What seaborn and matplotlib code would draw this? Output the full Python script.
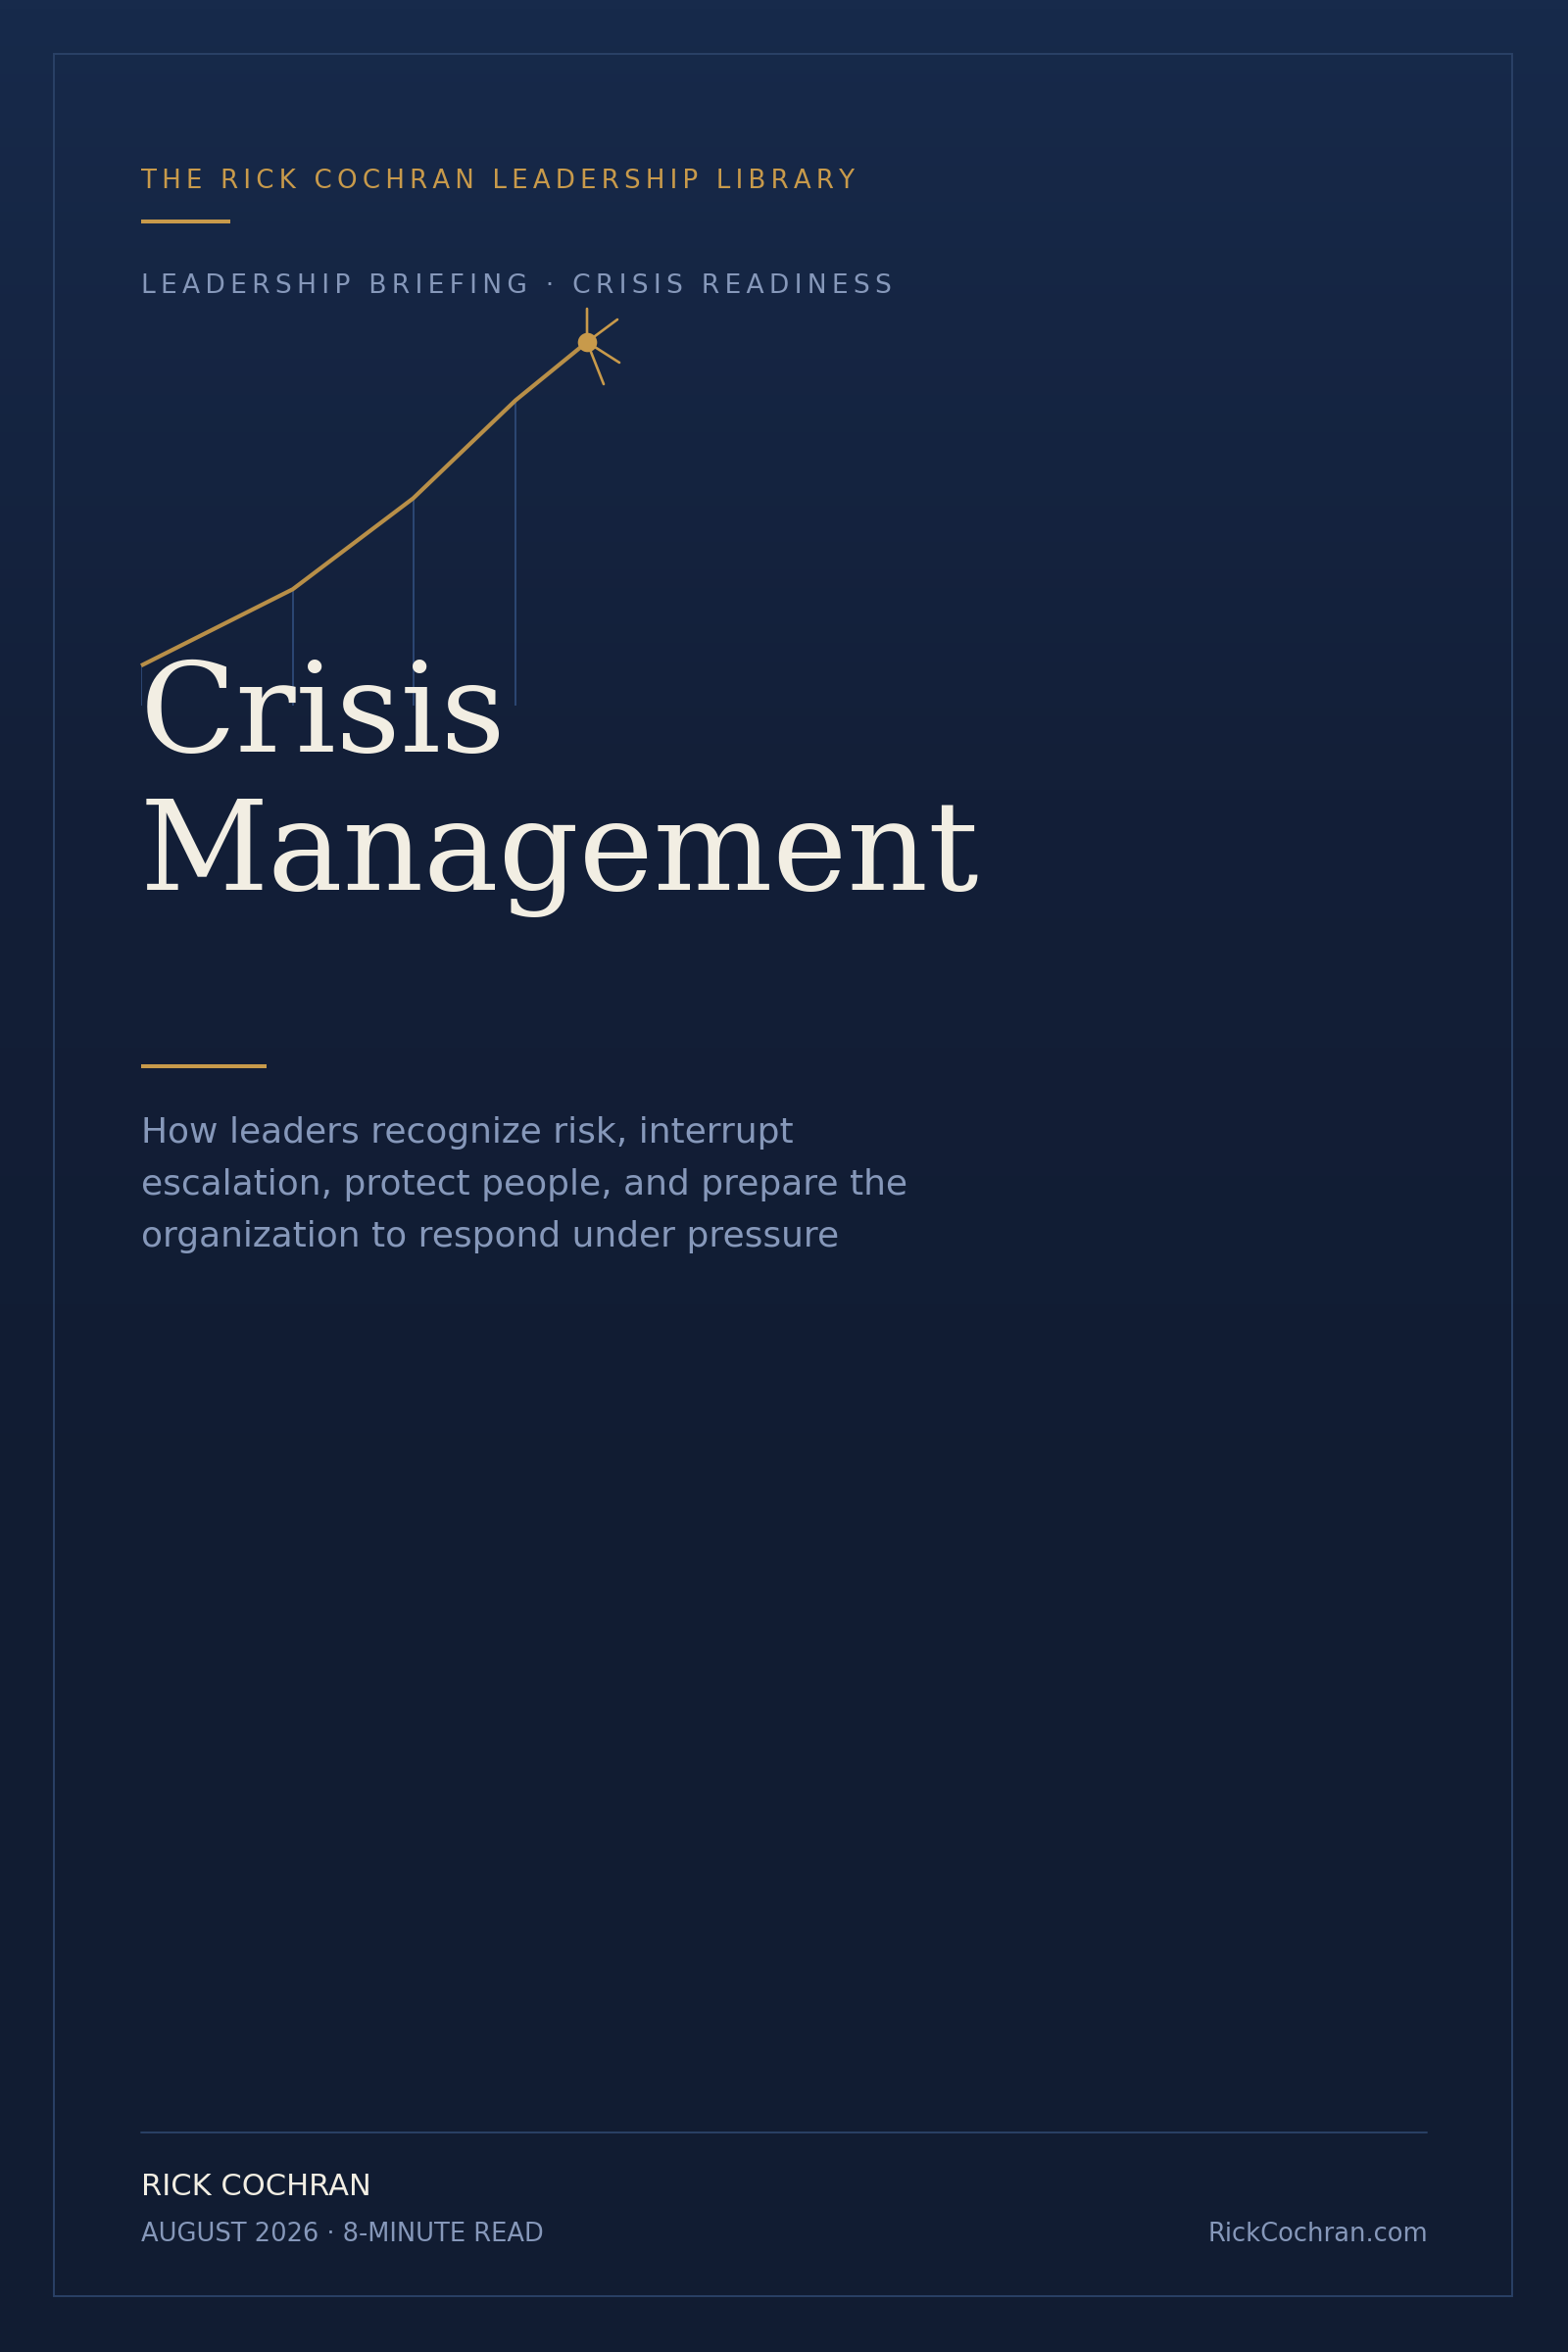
import numpy as np
import matplotlib
matplotlib.use('Agg')
import matplotlib.pyplot as plt
from matplotlib.colors import LinearSegmentedColormap
from matplotlib.patches import Rectangle
import seaborn as sns

# escalation curve (stage of incident vs pressure index)
stage = [0, 34, 61, 84, 100]
pressure = [11, 32, 57, 84, 100]

series_label = 'THE RICK COCHRAN LEADERSHIP LIBRARY'
kicker = 'LEADERSHIP BRIEFING \u00b7 CRISIS READINESS'
title_lines = ['Crisis', 'Management']
subtitle_lines = ['How leaders recognize risk, interrupt',
                  'escalation, protect people, and prepare the',
                  'organization to respond under pressure']
author = 'RICK COCHRAN'
meta = 'AUGUST 2026 \u00b7 8-MINUTE READ'
site = 'RickCochran.com'

GOLD = '#C89A4B'
LINE_GOLD = '#B88F48'
CREAM = '#F2EEE3'
MUTED = '#8698BA'
FRAME = '#2A4166'
DROP = '#2E4A78'

sns.set_theme(style='white')
plt.rcParams['font.family'] = ['DejaVu Sans']


def spaced(s, gap='\u2009'):
    # css-like letter spacing using thin / hair spaces
    return gap.join(s)


fig = plt.figure(figsize=(16, 24), dpi=100)

# background in pixel coordinates
bg = fig.add_axes([0, 0, 1, 1])
cmap = LinearSegmentedColormap.from_list('bg', ['#172A4B', '#131F38', '#111C32', '#111C32'])
grad = np.linspace(0, 1, 256).reshape(-1, 1)
bg.imshow(grad, cmap=cmap, aspect='auto', extent=[0, 1600, 2400, 0])
bg.set_xlim(0, 1600)
bg.set_ylim(2400, 0)
bg.axis('off')

bg.add_patch(Rectangle((55, 55), 1488, 2288, fill=False, ec=FRAME, lw=1.4))
bg.plot([144, 235], [226, 226], color=GOLD, lw=2.9, solid_capstyle='butt')
bg.plot([144, 272], [1088, 1088], color=GOLD, lw=2.9, solid_capstyle='butt')
bg.plot([144, 1456], [2176, 2176], color=FRAME, lw=1.4)

# escalation chart
ax = fig.add_axes([144 / 1600, 1 - 720 / 2400, 455 / 1600, 371 / 2400])
ax.set_xlim(0, 100)
ax.set_ylim(0, 100)
ax.axis('off')
ax.patch.set_alpha(0)
ax.vlines(stage[:-1], 0, pressure[:-1], color=DROP, lw=1.3, zorder=1)
sns.lineplot(x=stage, y=pressure, ax=ax, color=LINE_GOLD, lw=3.0, zorder=2,
             clip_on=False, solid_capstyle='butt')
for dx, dy in [(0, 34), (31, 23), (33, -21), (17, -43)]:
    ax.annotate('', xy=(stage[-1], pressure[-1]), xytext=(dx, dy), textcoords='offset pixels',
                arrowprops=dict(arrowstyle='-', color=GOLD, lw=1.9, shrinkA=0, shrinkB=0),
                annotation_clip=False, zorder=3)
sns.scatterplot(x=stage[-1:], y=pressure[-1:], ax=ax, color=GOLD, s=200, linewidth=0,
                zorder=4, clip_on=False)


def txt(x, y, s, **kw):
    fig.text(x, y, s, transform=bg.transData, va='baseline', **kw)


txt(144, 192, spaced(series_label), color=GOLD, fontsize=18.7)
txt(144, 299, spaced(kicker), color=MUTED, fontsize=19.1)
for s, y in zip(title_lines, [767, 908]):
    txt(143, y, s, color=CREAM, fontsize=92.3, family='DejaVu Serif')
for s, y in zip(subtitle_lines, [1166, 1219, 1272]):
    txt(144, y, s, color=MUTED, fontsize=25.9)
txt(144, 2240, author, color=CREAM, fontsize=22)
txt(144, 2287, meta, color=MUTED, fontsize=18.5)
txt(1457, 2287, site, color=MUTED, fontsize=18.5, ha='right')

fig.savefig('out.png', dpi=100)
